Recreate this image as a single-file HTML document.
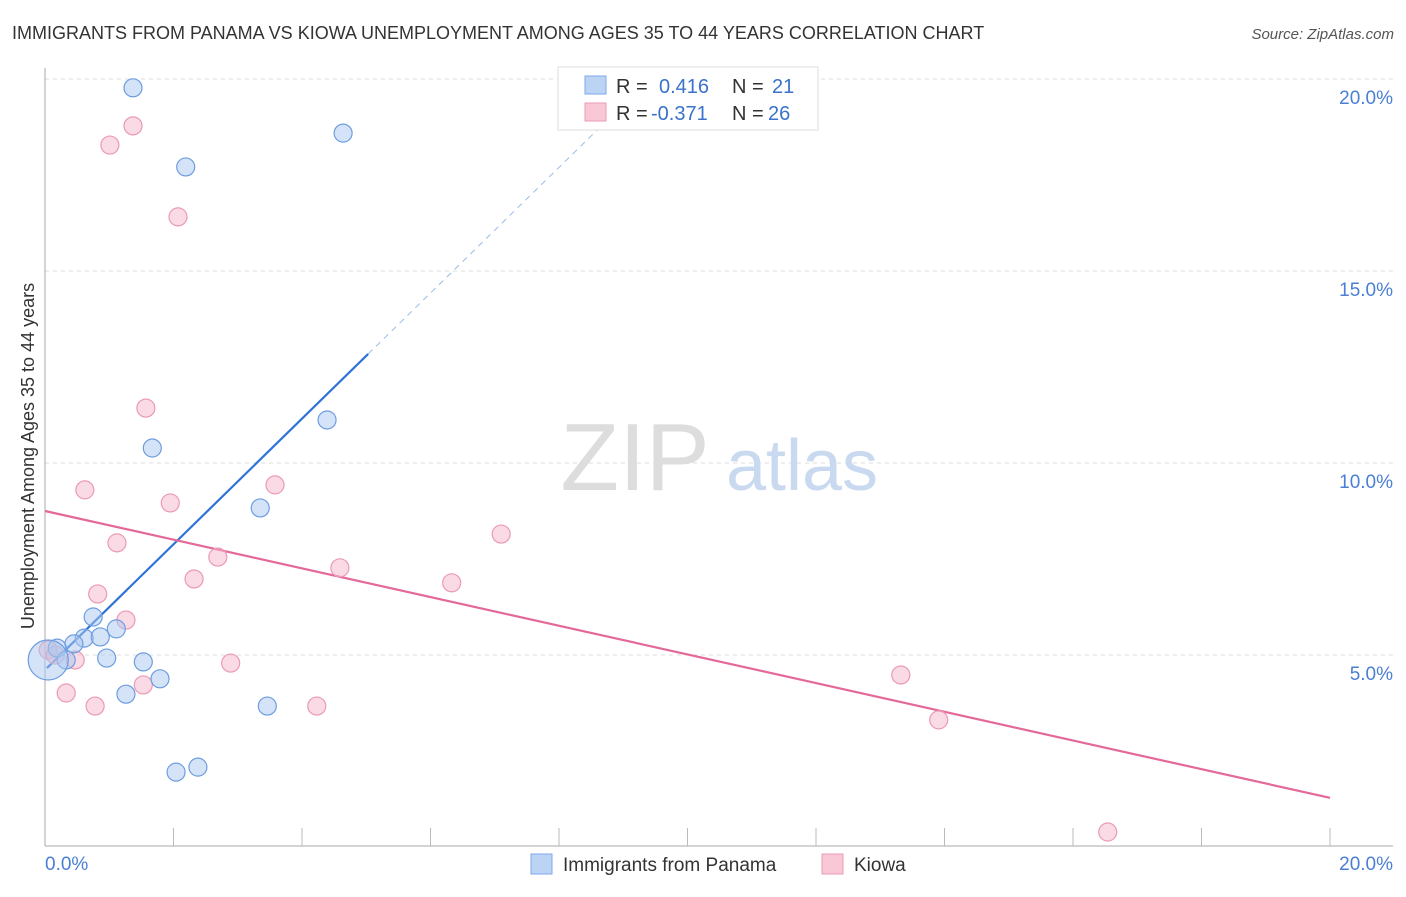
<!DOCTYPE html>
<html><head><meta charset="utf-8">
<style>
body{margin:0;background:#fff;font-family:"Liberation Sans",sans-serif;}
svg text{font-family:"Liberation Sans",sans-serif;}
</style></head>
<body>
<svg id="c" width="1406" height="892" xmlns="http://www.w3.org/2000/svg">
<text x="12" y="39" font-size="18" fill="#333">IMMIGRANTS FROM PANAMA VS KIOWA UNEMPLOYMENT AMONG AGES 35 TO 44 YEARS CORRELATION CHART</text>
<text x="1394" y="39" font-size="15" fill="#555" font-style="italic" text-anchor="end">Source: ZipAtlas.com</text>
<text transform="translate(34,456) rotate(-90)" font-size="18" fill="#333" text-anchor="middle">Unemployment Among Ages 35 to 44 years</text>
<g id="grid"></g>
<g id="wm">
<text x="635" y="490" font-size="96" fill="#ddd" font-family="Liberation Serif" text-anchor="middle">ZIP</text>
<text x="802" y="490" font-size="72" fill="#c9d9ef" text-anchor="middle">atlas</text>
</g>
<g id="lines"></g>
<g id="pts"></g>
<g>
<rect x="558" y="67" width="260" height="63" fill="#fff" stroke="#ddd"/>
<rect x="585" y="76" width="21" height="18" fill="#bcd4f4" stroke="#7ea8e8"/>
<rect x="585" y="103" width="21" height="18" fill="#f8c8d6" stroke="#eb9ab4"/>
<text x="616" y="93" font-size="20" fill="#333">R =</text><text x="659" y="93" font-size="20" fill="#3a72cc">0.416</text>
<text x="732" y="93" font-size="20" fill="#333">N =</text><text x="772" y="93" font-size="20" fill="#3a72cc">21</text>
<text x="616" y="120" font-size="20" fill="#333">R =</text><text x="651" y="120" font-size="20" fill="#3a72cc">-0.371</text>
<text x="732" y="120" font-size="20" fill="#333">N =</text><text x="768" y="120" font-size="20" fill="#3a72cc">26</text>
</g>
<g>
<rect x="531" y="854" width="21" height="20" fill="#bcd4f4" stroke="#7ea8e8"/>
<text x="563" y="871" font-size="19" fill="#333">Immigrants from Panama</text>
<rect x="822" y="854" width="21" height="20" fill="#f8c8d6" stroke="#eb9ab4"/>
<text x="854" y="871" font-size="19" fill="#333">Kiowa</text>
</g>
</svg>
<script>
const yTicks=[5,10,15,20];
const yTickLabels=["5.0%","10.0%","15.0%","20.0%"];
const xTickLabels=["0.0%","20.0%"];
const blueX=[1.37,4.64,2.19,4.39,1.67,3.35,0.75,1.11,0.61,0.86,0.45,0.19,0.33,0.96,1.53,1.79,1.26,3.46,2.04,2.38,0.05];
const blueY=[19.77,18.59,17.71,11.12,10.39,8.83,5.99,5.68,5.44,5.47,5.29,5.18,4.87,4.92,4.82,4.38,3.98,3.67,1.95,2.08,4.87];
const pinkX=[1.37,1.01,2.07,1.57,0.62,1.95,3.58,1.12,2.69,2.32,7.10,4.59,6.33,0.82,1.26,0.47,0.05,2.89,1.53,0.33,0.78,4.23,13.32,13.91,16.54,0.16];
const pinkY=[18.78,18.28,16.41,11.43,9.30,8.96,9.43,7.92,7.55,6.98,8.15,7.27,6.88,6.59,5.91,4.87,5.13,4.79,4.22,4.01,3.67,3.67,4.48,3.31,0.39,5.0];
const blueFit=[0.03,4.66,5.03,12.84,9.3];
const pinkFit=[0,8.75,20,1.28];
const NS="http://www.w3.org/2000/svg";
const xs=v=>45+v/20*1285, ys=v=>847-v/5*192;
function mk(t,a,p){const e=document.createElementNS(NS,t);for(const k in a)e.setAttribute(k,a[k]);document.getElementById(p).appendChild(e);return e;}
yTicks.forEach((t,i)=>{
 const l=mk('line',{x1:45,x2:1393,y1:ys(t),y2:ys(t),stroke:'#ddd','stroke-dasharray':'4,4'},'grid');
 
 
 const tx=mk('text',{x:1393,y:ys(t)+25,'font-size':19,fill:'#4a7fd4','text-anchor':'end'},'grid');
 tx.textContent=yTickLabels[i];
 
 
});
const ax=mk('line',{x1:45,x2:45,y1:68,y2:846,stroke:'#aaa'},'grid');


const bx=mk('line',{x1:45,x2:1393,y1:846,y2:846,stroke:'#aaa'},'grid');


for(let i=1;i<=10;i++){const t=mk('line',{x1:xs(i*2),x2:xs(i*2),y1:828,y2:846,stroke:'#bbb'},'grid');
 
 }
[[0,'start',45],[20,'end',1393]].forEach((d,i)=>{const t=mk('text',{x:d[2],y:870,'font-size':19,fill:'#4a7fd4','text-anchor':d[1]},'grid');t.textContent=xTickLabels[i];
 
 });
function pts(X,Y,fill,stroke,name){X.forEach((x,i)=>{const r=(name==='panama-point'&&i===X.length-1)?20:9;
 const c=mk('circle',{cx:xs(x),cy:ys(Y[i]),r:r,fill:fill,stroke:stroke,'stroke-width':1.2},'pts');
 
 });}
pts(pinkX,pinkY,'rgba(246,182,202,0.5)','#eb9ab4','kiowa-point');
pts(blueX,blueY,'rgba(170,200,240,0.5)','#6d9de0','panama-point');
const slope=(blueFit[3]-blueFit[1])/(blueFit[2]-blueFit[0]);
const b1=mk('line',{x1:xs(blueFit[0]),y1:ys(blueFit[1]),x2:xs(blueFit[2]),y2:ys(blueFit[3]),stroke:'#2f73d8','stroke-width':2.2},'lines');


const b2=mk('line',{x1:xs(blueFit[2]),y1:ys(blueFit[3]),x2:xs(blueFit[4]),y2:ys(blueFit[3]+slope*(blueFit[4]-blueFit[2])),stroke:'#9bbbe8','stroke-width':1,'stroke-dasharray':'6,5'},'lines');


const p1=mk('line',{x1:xs(pinkFit[0]),y1:ys(pinkFit[1]),x2:xs(pinkFit[2]),y2:ys(pinkFit[3]),stroke:'#e4699a','stroke-width':2.2},'lines');


</script>
</body></html>
